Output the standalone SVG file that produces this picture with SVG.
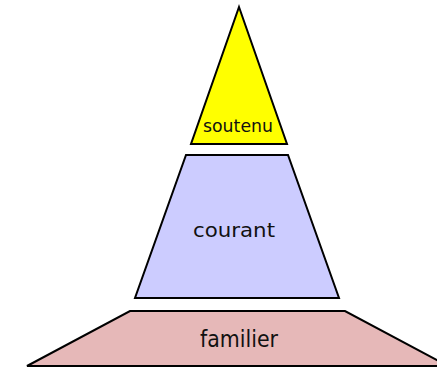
<svg xmlns="http://www.w3.org/2000/svg" width="437" height="367" viewBox="0 0 437 367">
<style>
.s{stroke:#000;stroke-width:2;stroke-linejoin:miter}
.t{font-family:"Comic Sans MS","DejaVu Sans",sans-serif;fill:#111;text-anchor:middle}
</style>
<rect width="437" height="367" fill="#fff"/>
<g id="soutenu">
<polygon class="s" fill="#ffff00" points="239,7 287,144 191,144"/>
<text class="t" x="238" y="132" font-size="18" textLength="70" lengthAdjust="spacingAndGlyphs">soutenu</text>
</g>
<g id="courant">
<polygon class="s" fill="#ccccff" points="186,155 288,155 339,298 135,298"/>
<text class="t" x="234" y="237" font-size="20" textLength="82" lengthAdjust="spacingAndGlyphs">courant</text>
</g>
<g id="familier">
<polygon class="s" fill="#e6b8b8" points="130,311 345,311 448,366 27,366"/>
<text class="t" x="239" y="347" font-size="23" textLength="78" lengthAdjust="spacingAndGlyphs">familier</text>
</g>
<g id="connectors"/>
</svg>
